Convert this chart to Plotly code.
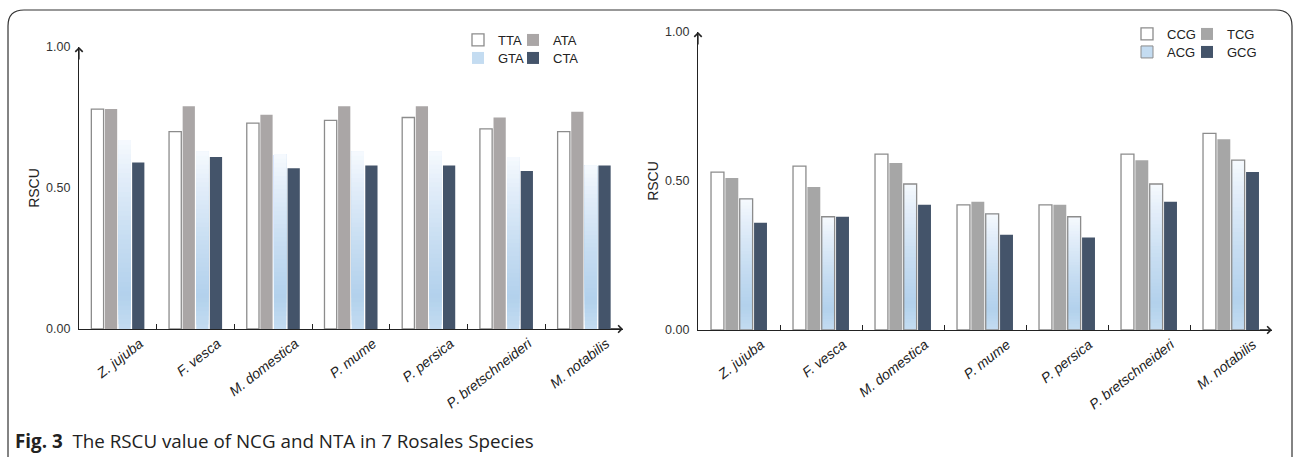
import plotly.graph_objects as go

W, H = 1293, 457

species = ["Z. jujuba", "F. vesca", "M. domestica", "P. mume",
           "P. persica", "P. bretschneideri", "M. notabilis"]

# Left panel (NTA codons)
tta = [0.78, 0.70, 0.73, 0.74, 0.75, 0.71, 0.70]
ata = [0.78, 0.79, 0.76, 0.79, 0.79, 0.75, 0.77]
gta = [0.67, 0.63, 0.62, 0.63, 0.63, 0.61, 0.58]
cta = [0.59, 0.61, 0.57, 0.58, 0.58, 0.56, 0.58]

# Right panel (NCG codons)
ccg = [0.53, 0.55, 0.59, 0.42, 0.42, 0.59, 0.66]
tcg = [0.51, 0.48, 0.56, 0.43, 0.42, 0.57, 0.64]
acg = [0.44, 0.38, 0.49, 0.39, 0.38, 0.49, 0.57]
gcg = [0.36, 0.38, 0.42, 0.32, 0.31, 0.43, 0.53]

y_ticks = [0, 0.5, 1.0]
y_ticktext = ["0.00", "0.50", "1.00"]

OUTLINE = "#8c8c8c"
DARK = "#44546a"
GRAD_STOPS = [(0.0, (196, 220, 241)), (0.18, (178, 209, 236)),
              (0.5, (200, 222, 242)), (0.8, (226, 237, 249)),
              (1.0, (246, 250, 254))]
NSEG = 40


def grad_color(t):
    for (t0, c0), (t1, c1) in zip(GRAD_STOPS[:-1], GRAD_STOPS[1:]):
        if t0 <= t <= t1:
            f = (t - t0) / (t1 - t0)
            r, g, b = (round(a + (bb - a) * f) for a, bb in zip(c0, c1))
            return f"rgb({r},{g},{b})"
    return "rgb(246,250,254)"


def px_x(p):
    return p / W


def px_y(p):
    return 1 - p / H


fig = go.Figure()
s2_color = {"x": "#aaa6a6", "x2": "#a6a6a6"}


def add_panel(xa, ya, names, series, legs, grad_outline):
    n1, n2, n3, n4 = names
    s1, s2, s3, s4 = series
    common = dict(x=species, xaxis=xa, yaxis=ya, hoverinfo="skip")
    fig.add_trace(go.Bar(y=s1, name=n1, offsetgroup="g1", legend=legs[0],
                         marker=dict(color="white", line=dict(color=OUTLINE, width=1.3)),
                         **common))
    fig.add_trace(go.Bar(y=s2, name=n2, offsetgroup="g2", legend=legs[1],
                         marker=dict(color=s2_color[xa], line=dict(width=0)),
                         **common))
    # legend entry for the gradient series
    fig.add_trace(go.Bar(y=[None] * len(species), name=n3, offsetgroup="g3", legend=legs[2],
                         marker=dict(color="rgb(196,220,241)",
                                     line=dict(color=OUTLINE if grad_outline else "rgba(0,0,0,0)",
                                               width=1 if grad_outline else 0)),
                         **common))
    # gradient: overlapping slices, each from its base up to the bar top
    for i in range(NSEG):
        t = (i + 0.5) / NSEG
        fig.add_trace(go.Bar(y=[v * (NSEG - i) / NSEG for v in s3],
                             base=[v * i / NSEG for v in s3],
                             offsetgroup="g3", showlegend=False,
                             marker=dict(color=grad_color(t), line=dict(width=0)),
                             **common))
    if grad_outline:
        fig.add_trace(go.Bar(y=s3, offsetgroup="g3", showlegend=False,
                             marker=dict(color="rgba(0,0,0,0)",
                                         line=dict(color=OUTLINE, width=1.3)),
                             **common))
    fig.add_trace(go.Bar(y=s4, name=n4, offsetgroup="g4", legend=legs[3],
                         marker=dict(color=DARK, line=dict(width=0)),
                         **common))


add_panel("x", "y", ["TTA", "ATA", "GTA", "CTA"], [tta, ata, gta, cta],
          ["legend", "legend2", "legend3", "legend4"], False)
add_panel("x2", "y2", ["CCG", "TCG", "ACG", "GCG"], [ccg, tcg, acg, gcg],
          ["legend5", "legend6", "legend7", "legend8"], True)

AX_COLOR = "#222222"
xcommon = dict(showline=True, linecolor=AX_COLOR, linewidth=1.3, ticks="inside",
               tickson="boundaries", ticklen=5, tickcolor=AX_COLOR, tickwidth=1.2,
               tickangle=-38, showgrid=False, zeroline=False,
               tickfont=dict(family="Arial", size=14, color="#222", style="italic"),
               ticklabelshift=22, fixedrange=True)
ycommon = dict(showline=True, linecolor=AX_COLOR, linewidth=1.3, ticks="",
               range=[0, 1.0], tickvals=y_ticks, ticktext=y_ticktext,
               showgrid=False, zeroline=False, ticklabelstandoff=5,
               tickfont=dict(family="Arial", size=12.5, color="#333"),
               title=dict(text="RSCU", font=dict(family="Arial", size=14, color="#222"),
                          standoff=3),
               fixedrange=True)

legcommon = dict(orientation="h", xanchor="left", yanchor="middle",
                 bgcolor="rgba(0,0,0,0)", font=dict(family="Arial", size=13, color="#222"),
                 itemwidth=30, tracegroupgap=0, itemclick=False,
                 itemdoubleclick=False)

# legend item anchors (pixel positions)
leg_pos = {
    "legend": (458, 40), "legend2": (513, 40), "legend3": (458, 58), "legend4": (513, 58),
    "legend5": (1127, 34), "legend6": (1187, 34), "legend7": (1127, 52), "legend8": (1187, 52),
}
legends = {k: dict(x=px_x(x), y=px_y(y), **legcommon) for k, (x, y) in leg_pos.items()}

annotations = []
for xa, ya in (("x", "y"), ("x2", "y2")):
    annotations.append(dict(xref=f"{xa} domain", yref=f"{ya} domain", x=1, y=0,
                            ax=-14, ay=0, axref="pixel", ayref="pixel", text="",
                            showarrow=True, arrowhead=4, arrowsize=1.1, arrowwidth=1.3,
                            arrowcolor=AX_COLOR))
    annotations.append(dict(xref=f"{xa} domain", yref=f"{ya} domain", x=0, y=1,
                            ax=0, ay=14, axref="pixel", ayref="pixel", text="",
                            showarrow=True, arrowhead=4, arrowsize=1.1, arrowwidth=1.3,
                            arrowcolor=AX_COLOR))
annotations.append(dict(xref="paper", yref="paper", x=px_x(13), y=px_y(441),
                        xanchor="left", yanchor="middle", showarrow=False,
                        text="<b>Fig. 3</b>  The RSCU value of NCG and NTA in 7 Rosales Species",
                        font=dict(family="Open Sans", size=18.8, color="#222")))


def P(x, y):
    return f"{px_x(x):.5f},{px_y(y):.5f}"


frame = (f"M {P(8, 470)} L {P(8, 26)} Q {P(8, 10)} {P(24, 10)} "
         f"L {P(1276, 10)} Q {P(1292, 10)} {P(1292, 26)} L {P(1292, 470)}")

fig.update_layout(
    width=W, height=H,
    margin=dict(l=0, r=0, t=0, b=0, autoexpand=False),
    paper_bgcolor="white", plot_bgcolor="white",
    barmode="group", bargap=0.3, bargroupgap=0.1,
    xaxis=dict(domain=[px_x(79), px_x(623)], anchor="y", **xcommon),
    yaxis=dict(domain=[px_y(329), px_y(47)], anchor="x", **ycommon),
    xaxis2=dict(domain=[px_x(698), px_x(1272)], anchor="y2", **xcommon),
    yaxis2=dict(domain=[px_y(330), px_y(32)], anchor="x2", **ycommon),
    annotations=annotations,
    shapes=[dict(type="path", path=frame, xref="paper", yref="paper",
                 line=dict(color="#333", width=1.2))],
    showlegend=True,
    **legends,
)

post = ("document.body.style.margin='0';document.body.style.overflow='hidden';"
        "var d=document.getElementById('{plot_id}');"
        "d.style.position='absolute';d.style.left='0px';d.style.top='0px';")

fig.write_html("out.html", post_script=post, config={"displayModeBar": False})
